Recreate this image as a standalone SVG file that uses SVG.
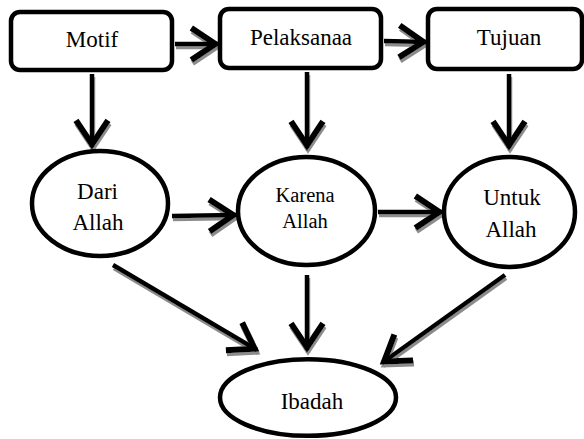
<svg xmlns="http://www.w3.org/2000/svg" width="584" height="439" viewBox="0 0 584 439">
<defs>
<style>
.box{fill:#fff;stroke:#000;stroke-width:4.5}
.ell{fill:#fff;stroke:#000;stroke-width:4.5}
text{font-family:'Liberation Serif','Times New Roman',Tinos,'DejaVu Serif',serif;font-size:23px;fill:#000;text-anchor:middle}
text.ts{font-size:20.5px}
.c{fill:none;stroke:#000;stroke-width:4.5;marker-end:url(#ah)}
</style>
<marker id="ah" markerUnits="userSpaceOnUse" orient="auto" refX="0" refY="0" markerWidth="40" markerHeight="40" viewBox="-25 -15 30 30" overflow="visible">
<path d="M-20,-12 L-2,0 L-20,12" fill="none" stroke="#000" stroke-width="4.5" stroke-linejoin="miter"/>
</marker>
<filter id="sh" x="-10%" y="-10%" width="130%" height="130%">
<feDropShadow dx="1" dy="3" stdDeviation="0.6" flood-color="#8c8c8c" flood-opacity="1"/>
</filter>
</defs>
<rect width="584" height="439" fill="#fff"/>
<g id="connectors" filter="url(#sh)">
<path class="c" d="M175,44 L218,44"/>
<path class="c" d="M384,41 L426,42"/>
<path class="c" d="M92,74 L92,147"/>
<path class="c" d="M307,72 L307,148"/>
<path class="c" d="M509,74 L509,148"/>
<path class="c" d="M172,216 L236,215"/>
<path class="c" d="M378,212 L442,212"/>
<path class="c" d="M113,265 L257,350"/>
<path class="c" d="M307,275 L307,350"/>
<path class="c" d="M505,275 L382,363"/>
</g>
<g id="motif">
<rect class="box" x="11" y="12" width="161" height="58" rx="9"/>
<text x="92" y="47" font-family="Liberation Serif, serif">Motif</text>
</g>
<g id="pelaksanaa">
<rect class="box" x="220" y="9" width="161" height="59" rx="9"/>
<text x="301" y="45" font-family="Liberation Serif, serif">Pelaksanaa</text>
</g>
<g id="tujuan">
<rect class="box" x="428" y="9" width="154" height="60" rx="9"/>
<text x="509" y="45" font-family="Liberation Serif, serif">Tujuan</text>
</g>
<g id="dari-allah">
<ellipse class="ell" cx="100" cy="203.5" rx="68" ry="52.5"/>
<text x="97.5" y="199" font-family="Liberation Serif, serif">Dari</text>
<text x="98" y="230" font-family="Liberation Serif, serif">Allah</text>
</g>
<g id="karena-allah">
<ellipse class="ell" cx="306.5" cy="211" rx="68.5" ry="54"/>
<text class="ts" x="305" y="201.5" font-family="Liberation Serif, serif">Karena</text>
<text class="ts" x="305" y="228" font-family="Liberation Serif, serif">Allah</text>
</g>
<g id="untuk-allah">
<ellipse class="ell" cx="509.5" cy="212" rx="65.5" ry="55"/>
<text x="512" y="205" font-family="Liberation Serif, serif">Untuk</text>
<text x="511" y="237" font-family="Liberation Serif, serif">Allah</text>
</g>
<g id="ibadah">
<ellipse class="ell" cx="308" cy="397.5" rx="88" ry="38.3"/>
<text x="312" y="409" font-family="Liberation Serif, serif">Ibadah</text>
</g>
</svg>
